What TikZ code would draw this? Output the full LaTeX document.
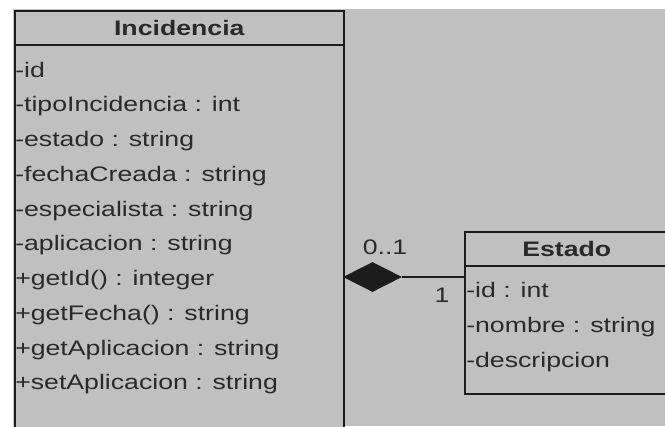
\documentclass[tikz,border=0pt]{standalone}
\usepackage{fontspec}
\setmainfont{Liberation Sans}[FakeStretch=1.27]
\usetikzlibrary{shapes.geometric}

\definecolor{umlgray}{RGB}{192,192,192}
\definecolor{umlline}{RGB}{28,28,28}
\definecolor{umltext}{RGB}{42,42,42}

\tikzset{
  classhead/.style={draw=umlline, line width=1.2pt, fill=umlgray, anchor=north west,
    inner sep=0pt, text=umltext, font=\fontsize{15.75}{19}\selectfont\bfseries},
  classbody/.style={draw=umlline, line width=1.2pt, fill=umlgray, anchor=north west, inner sep=0pt},
  attr/.style={anchor=base west, inner sep=0pt, text=umltext, font=\fontsize{15.75}{19}\selectfont},
  mult/.style={inner sep=0pt, text=umltext, font=\fontsize{15.75}{19}\selectfont},
  composite/.style={diamond, fill=umlline, inner sep=0pt, minimum width=44.25pt, minimum height=22.5pt},
}

\begin{document}
\begin{tikzpicture}[x=0.75pt,y=0.75pt,yscale=-1,xscale=1]
\useasboundingbox (0,0) rectangle (665,426);
\clip (0,0) rectangle (665,426);
\fill[white] (0,0) rectangle (665,426);
\fill[umlgray] (13,9) rectangle (665,426);

% class Incidencia (runs off the bottom)
\node[classbody, minimum width=246.75pt, minimum height=300pt] (incBody) at (14,44) {};
\node[classhead, minimum width=246.75pt, minimum height=25.5pt] (incHead) at (14,10) {Incidencia};
\foreach \txt [count=\i] in {{-id}, {-tipoIncidencia : int}, {-estado : string},
    {-fechaCreada : string}, {-especialista : string}, {-aplicacion : string},
    {+getId() : integer}, {+getFecha() : string}, {+getAplicacion : string},
    {+setAplicacion : string}}
  \node[attr] (incAttr\i) at (15,{77+34.75*(\i-1)}) {\txt};

% class Estado (runs off the right side)
\node[classbody, minimum width=153pt, minimum height=96pt] (estBody) at (464,265) {};
\node[classhead, minimum width=153pt, minimum height=25.5pt] (estHead) at (464,231) {Estado};
\foreach \txt [count=\i] in {{-id : int}, {-nombre : string}, {-descripcion}}
  \node[attr] (estAttr\i) at (466,{297+35*(\i-1)}) {\txt};

% composition
\node[composite] (comp) at (372.5,277) {};
\draw[umlline, line width=1.2pt] (comp.east) -- (comp.east -| estBody.west);
\node[mult] (multInc) at (385,247) {0..1};
\node[mult] (multEst) at (442,295) {1};

\end{tikzpicture}
\end{document}
